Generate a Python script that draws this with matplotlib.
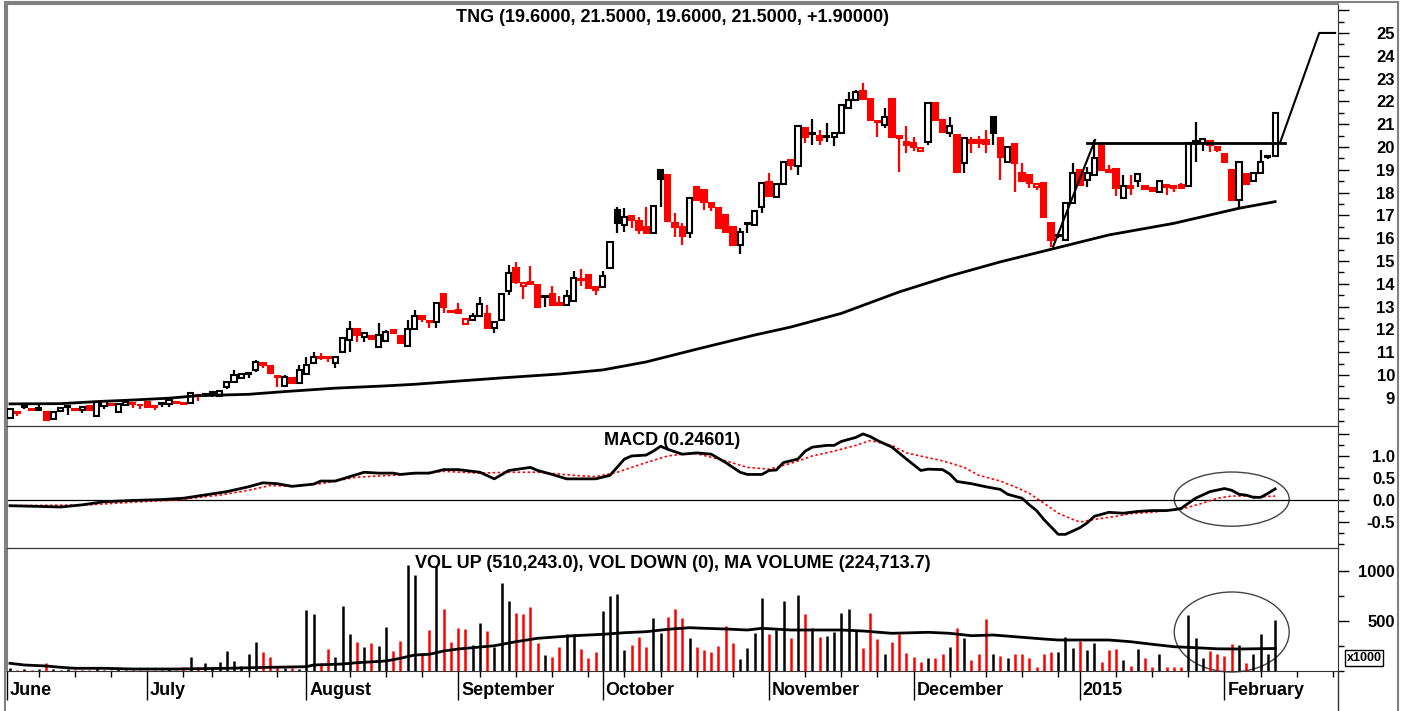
import numpy as np
import matplotlib.pyplot as plt
from matplotlib.patches import Rectangle, Ellipse
from matplotlib.lines import Line2D
from matplotlib.ticker import MultipleLocator

plt.rcParams['font.family'] = ['Liberation Sans', 'DejaVu Sans']
plt.rcParams['font.weight'] = 'bold'

# daily bars, TNG, June 2014 - February 2015
opens = [8.13, 8.39, 8.58, 8.51, 8.55, 8.39, 8.07, 8.42, 8.60, 8.52,
         8.46, 8.64, 8.22, 8.64, 8.72, 8.36, 8.70, 8.78, 8.70, 8.83,
         8.64, 8.73, 8.73, 8.80, 8.78, 8.76, 9.12, 9.13, 9.22, 9.09,
         9.46, 9.68, 9.88, 10.05, 10.22, 10.51, 10.37, 9.95, 9.52, 9.88,
         9.66, 10.04, 10.51, 10.80, 10.80, 10.51, 10.99, 11.53, 12.02, 11.65,
         11.71, 11.24, 11.50, 11.97, 11.71, 11.27, 12.02, 12.60, 12.36, 12.34,
         13.55, 12.82, 12.85, 12.24, 12.41, 12.59, 12.67, 12.05, 12.41, 13.70,
         14.68, 13.90, 14.06, 13.95, 13.42, 13.55, 13.14, 13.07, 13.26, 14.22,
         14.39, 13.87, 13.87, 14.68, 17.24, 16.58, 16.97, 16.77, 16.51, 16.21,
         18.99, 18.77, 16.68, 16.51, 16.21, 18.23, 18.09, 17.53, 17.34, 17.02,
         16.48, 15.70, 16.60, 16.58, 17.38, 18.48, 17.79, 18.38, 19.43, 19.17,
         20.82, 20.55, 20.48, 20.43, 20.45, 20.60, 21.70, 22.06, 22.47, 22.09,
         21.16, 20.97, 22.09, 20.48, 20.23, 20.16, 19.84, 20.23, 21.92, 21.18,
         20.60, 20.53, 19.28, 20.31, 20.31, 20.30, 21.30, 20.38, 19.36, 20.11,
         18.87, 18.77, 18.23, 18.44, 16.65, 16.10, 15.92, 17.56, 18.99, 18.55,
         18.77, 20.09, 18.98, 19.02, 17.75, 18.29, 18.52, 18.29, 18.19, 18.04,
         18.33, 18.29, 18.33, 18.29, 20.21, 20.19, 20.26, 19.99, 19.68, 18.99,
         17.68, 18.82, 18.52, 18.85, 19.55, 19.60]
highs = [8.49, 8.39, 8.64, 8.52, 8.73, 8.40, 8.37, 8.60, 8.66, 8.53,
         8.62, 8.65, 8.85, 8.86, 8.73, 8.76, 8.87, 8.79, 8.71, 8.84,
         8.66, 8.80, 8.92, 8.81, 8.80, 9.24, 9.17, 9.14, 9.28, 9.33,
         9.75, 10.22, 10.06, 10.12, 10.66, 10.55, 10.38, 9.96, 10.00, 9.89,
         10.44, 10.77, 11.02, 10.95, 10.82, 10.82, 11.63, 12.37, 12.04, 11.88,
         11.73, 12.27, 11.97, 12.00, 11.73, 12.41, 12.85, 12.63, 12.38, 13.19,
         13.58, 12.85, 13.14, 12.46, 12.73, 13.41, 13.07, 12.36, 13.56, 14.83,
         14.97, 14.07, 14.78, 13.97, 13.48, 13.90, 13.46, 13.73, 14.58, 14.63,
         14.41, 13.89, 14.58, 15.87, 17.38, 17.31, 16.99, 16.94, 17.38, 17.43,
         19.01, 18.80, 17.09, 16.65, 17.77, 18.25, 18.11, 17.60, 17.36, 17.04,
         16.50, 16.43, 16.67, 17.23, 18.46, 18.85, 18.40, 19.38, 19.45, 20.94,
         20.84, 21.21, 20.75, 21.04, 20.62, 21.86, 22.43, 22.50, 22.79, 22.10,
         21.17, 21.70, 22.10, 20.49, 20.94, 20.45, 19.99, 21.94, 21.94, 21.20,
         21.30, 20.55, 20.40, 20.45, 20.48, 20.75, 21.32, 20.40, 20.03, 20.13,
         19.28, 18.79, 18.40, 18.46, 16.67, 16.16, 17.58, 19.28, 19.01, 19.14,
         20.31, 20.20, 19.21, 19.04, 18.77, 18.77, 18.82, 18.31, 18.21, 18.54,
         18.35, 18.31, 18.44, 20.18, 21.11, 20.36, 20.31, 20.01, 19.70, 19.01,
         19.38, 18.84, 18.87, 19.87, 19.62, 21.50]
lows = [8.06, 8.22, 8.49, 8.42, 8.42, 8.00, 8.05, 8.40, 8.25, 8.46,
        8.32, 8.45, 8.20, 8.52, 8.64, 8.35, 8.68, 8.54, 8.49, 8.58,
        8.46, 8.61, 8.58, 8.74, 8.72, 8.74, 8.87, 9.02, 9.02, 9.08,
        9.40, 9.66, 9.86, 9.85, 10.15, 10.29, 10.05, 9.49, 9.50, 9.60,
        9.64, 10.00, 10.48, 10.66, 10.58, 10.29, 10.97, 11.02, 11.46, 11.46,
        11.54, 11.22, 11.48, 11.80, 11.37, 11.25, 12.00, 12.34, 12.05, 12.05,
        12.73, 12.70, 12.70, 12.22, 12.40, 12.57, 12.03, 11.83, 12.39, 13.51,
        13.99, 13.32, 13.98, 12.95, 13.00, 13.05, 13.04, 13.05, 13.24, 13.90,
        13.78, 13.51, 13.85, 14.66, 16.24, 16.29, 16.43, 16.19, 16.22, 16.19,
        17.38, 16.70, 16.07, 15.70, 15.99, 17.66, 17.24, 17.17, 16.41, 16.27,
        15.68, 15.31, 16.21, 16.56, 17.09, 17.83, 17.77, 18.36, 18.99, 18.77,
        20.19, 20.09, 20.09, 20.23, 20.04, 20.58, 21.68, 22.00, 22.05, 21.16,
        20.45, 20.82, 20.43, 18.92, 19.72, 19.84, 19.82, 20.09, 21.16, 20.65,
        20.42, 18.90, 18.85, 19.72, 19.94, 19.72, 20.09, 18.55, 19.34, 18.04,
        18.50, 18.19, 18.11, 16.92, 15.63, 15.99, 15.90, 17.54, 18.31, 18.26,
        18.75, 18.97, 18.85, 17.85, 17.73, 17.90, 18.26, 18.12, 18.05, 18.02,
        17.90, 18.04, 18.17, 18.27, 19.36, 19.84, 19.80, 19.80, 19.34, 17.66,
        17.38, 18.36, 18.50, 18.83, 19.48, 19.60]
closes = [8.49, 8.32, 8.63, 8.44, 8.46, 8.03, 8.36, 8.54, 8.64, 8.48,
          8.61, 8.46, 8.83, 8.84, 8.66, 8.73, 8.83, 8.74, 8.66, 8.60,
          8.58, 8.78, 8.90, 8.76, 8.74, 9.22, 9.10, 9.11, 9.27, 9.31,
          9.71, 10.00, 10.04, 10.10, 10.58, 10.45, 10.07, 9.90, 9.91, 9.63,
          10.22, 10.44, 10.80, 10.76, 10.74, 10.80, 11.61, 12.02, 11.75, 11.86,
          11.56, 11.75, 11.90, 11.83, 11.39, 12.02, 12.60, 12.45, 12.30, 13.17,
          13.00, 12.76, 12.72, 12.44, 12.59, 13.10, 12.05, 12.34, 13.54, 14.49,
          14.09, 14.05, 14.00, 12.97, 13.46, 13.07, 13.05, 13.48, 14.24, 14.15,
          13.80, 13.73, 14.34, 15.85, 16.65, 16.92, 16.80, 16.36, 16.24, 17.41,
          18.60, 16.73, 16.51, 16.10, 17.75, 17.68, 17.60, 17.38, 16.43, 16.29,
          15.70, 16.29, 16.65, 17.21, 18.44, 17.85, 18.38, 19.36, 19.21, 20.92,
          20.45, 20.58, 20.31, 20.46, 20.60, 21.84, 22.06, 22.43, 22.09, 21.18,
          21.08, 21.30, 20.45, 20.38, 20.09, 19.99, 19.97, 21.92, 21.18, 20.67,
          20.92, 18.92, 20.38, 20.19, 20.16, 20.14, 20.60, 19.58, 20.01, 19.28,
          18.52, 18.40, 18.38, 16.94, 15.92, 16.14, 17.56, 18.85, 18.33, 18.85,
          19.50, 18.99, 18.90, 18.19, 18.29, 18.20, 18.80, 18.14, 18.07, 18.52,
          18.26, 18.22, 18.19, 20.16, 20.24, 20.34, 20.09, 19.87, 19.36, 17.68,
          19.36, 18.38, 18.85, 19.36, 19.60, 21.50]
# volume in thousands
volumes = [30, 15, 20, 12, 18, 77, 25, 15, 20, 10,
           15, 12, 30, 15, 10, 20, 15, 10, 12, 10,
           8, 15, 20, 10, 43, 143, 43, 77, 27, 93,
           200, 103, 53, 167, 293, 193, 143, 43, 27, 27,
           20, 610, 567, 77, 217, 143, 653, 367, 293, 237,
           277, 250, 443, 203, 303, 1060, 960, 177, 410, 1050,
           617, 287, 433, 417, 260, 477, 403, 243, 877, 700,
           577, 567, 637, 277, 160, 143, 243, 367, 367, 217,
           133, 187, 603, 753, 770, 210, 260, 343, 243, 527,
           377, 543, 617, 527, 327, 243, 210, 193, 250, 453,
           283, 117, 227, 376, 726, 366, 410, 699, 326, 759,
           566, 426, 343, 353, 393, 576, 616, 410, 226, 583,
           320, 170, 286, 366, 176, 143, 93, 127, 133, 167,
           243, 433, 326, 110, 170, 520, 167, 150, 133, 167,
           167, 127, 43, 167, 193, 193, 343, 226, 300, 210,
           276, 93, 210, 216, 107, 53, 216, 133, 43, 167,
           43, 43, 43, 559, 326, 127, 200, 167, 150, 266,
           260, 77, 167, 366, 167, 510]

# long moving average on price (sampled points)
ma_idx = [0, 7, 12, 17, 22, 26, 33, 38, 45, 52, 56, 68, 76, 82, 88, 95,
          103, 108, 115, 123, 130, 137, 144, 152, 161, 170, 175]
ma_val = [8.73, 8.74, 8.83, 8.90, 8.98, 9.09, 9.15, 9.27, 9.42, 9.52, 9.59,
          9.87, 10.04, 10.22, 10.57, 11.13, 11.75, 12.10, 12.70, 13.64, 14.34,
          14.96, 15.51, 16.14, 16.65, 17.31, 17.60]

macd_idx = [0, 5, 7, 10, 13, 17, 21, 24, 26, 30, 33, 35, 37, 39, 42, 43, 45,
            47, 49, 51, 53, 54, 56, 58, 60, 62, 64, 65, 67, 69, 72, 73, 75, 77,
            79, 81, 83, 85, 86, 88, 89, 90, 91, 93, 95, 97, 99, 101, 102, 104,
            105, 106, 107, 109, 110, 111, 113, 114, 115, 117, 118, 119, 120,
            122, 124, 126, 127, 129, 130, 131, 133, 135, 137, 138, 140, 141,
            142, 143, 145, 146, 148, 149, 150, 152, 154, 156, 158, 160, 161,
            162, 164, 166, 168, 169, 170, 171, 172, 173, 174, 175]
macd_val = [-0.13, -0.15, -0.16, -0.11, -0.04, -0.01, 0.01, 0.04, 0.09, 0.19,
            0.30, 0.39, 0.37, 0.31, 0.36, 0.43, 0.43, 0.53, 0.63, 0.61, 0.61,
            0.58, 0.61, 0.61, 0.69, 0.69, 0.65, 0.63, 0.48, 0.67, 0.74, 0.67,
            0.58, 0.48, 0.48, 0.48, 0.56, 0.93, 1.00, 1.02, 1.11, 1.22, 1.15,
            1.04, 1.07, 1.04, 0.85, 0.63, 0.58, 0.58, 0.67, 0.68, 0.85, 0.93,
            1.11, 1.20, 1.24, 1.24, 1.33, 1.42, 1.50, 1.44, 1.35, 1.20, 0.93,
            0.67, 0.70, 0.69, 0.59, 0.42, 0.37, 0.30, 0.24, 0.13, 0.04, -0.11,
            -0.24, -0.44, -0.78, -0.78, -0.63, -0.52, -0.37, -0.28, -0.30,
            -0.26, -0.24, -0.24, -0.22, -0.19, 0.04, 0.19, 0.26, 0.22, 0.13,
            0.11, 0.06, 0.06, 0.15, 0.25]
signal_idx = [0, 11, 17, 23, 29, 33, 36, 39, 43, 48, 53, 60, 65, 69, 73, 78,
              81, 84, 88, 91, 93, 95, 99, 102, 105, 108, 111, 114, 117, 119,
              122, 124, 127, 129, 132, 134, 137, 139, 141, 143, 145, 147, 148,
              150, 153, 155, 158, 160, 162, 165, 167, 169, 171, 173, 175]
signal_val = [-0.13, -0.11, -0.05, 0.0, 0.11, 0.22, 0.33, 0.31, 0.37, 0.52,
              0.56, 0.65, 0.61, 0.63, 0.63, 0.56, 0.53, 0.63, 0.85, 1.0, 1.04,
              1.05, 0.89, 0.74, 0.70, 0.83, 1.0, 1.11, 1.24, 1.35, 1.24, 1.07,
              0.96, 0.89, 0.74, 0.56, 0.43, 0.30, 0.15, -0.07, -0.30, -0.44,
              -0.50, -0.44, -0.37, -0.31, -0.28, -0.24, -0.21, -0.07, 0.04,
              0.09, 0.09, 0.07, 0.09]

vma_idx = [0, 2, 5, 7, 9, 13, 17, 23, 30, 36, 41, 42, 46, 48, 52, 54, 56, 58,
           60, 62, 64, 67, 70, 73, 76, 78, 82, 85, 88, 91, 94, 96, 99, 102,
           104, 108, 112, 115, 118, 122, 127, 130, 133, 136, 139, 143, 145,
           152, 155, 158, 161, 164, 167, 170, 175]
vma_val = [77, 60, 50, 37, 27, 27, 20, 20, 27, 37, 43, 60, 70, 83, 100, 127,
           160, 167, 200, 220, 233, 253, 293, 327, 343, 353, 367, 383, 393,
           417, 433, 427, 420, 410, 427, 410, 410, 410, 400, 377, 387, 377,
           353, 360, 343, 320, 310, 310, 293, 267, 243, 233, 222, 220, 225]

# drawn lines on the price panel
resist_x, resist_y = [149.0, 176.3], [20.17, 20.17]
trend_x, trend_y = [144.3, 150.1], [15.63, 20.31]
target_x, target_y = [175.7, 181.1, 183.3], [20.2, 25.0, 25.0]

month_idx = [-0.41, 19, 41, 62, 82, 105, 125, 148, 168]
month_labels = ['June', 'July', 'August', 'September', 'October',
                'November', 'December', '2015', 'February']
week_idx = [4, 9, 14, 24, 28, 33, 37, 47, 52, 57, 65, 70, 75, 80, 85, 90, 95,
            100, 110, 115, 120, 130, 135, 140, 145, 153, 158, 163, 173, 178, 183]

title_price = 'TNG (19.6000, 21.5000, 19.6000, 21.5000, +1.90000)'
title_macd = 'MACD (0.24601)'
title_vol = 'VOL UP (510,243.0), VOL DOWN (0), MA VOLUME (224,713.7)'

W_PX, H_PX = 1406, 711
RED = '#ff0000'
GRAY = '#808080'


def box(left, top, right, bottom):
    return [left / W_PX, 1 - bottom / H_PX, (right - left) / W_PX, (bottom - top) / H_PX]


fig = plt.figure(figsize=(W_PX / 100, H_PX / 100), dpi=100)
ax1 = fig.add_axes(box(7, 4, 1338, 426))
ax2 = fig.add_axes(box(7, 426, 1338, 548), sharex=ax1)
ax3 = fig.add_axes(box(7, 548, 1338, 671), sharex=ax1)

o = np.array(opens)
h = np.array(highs)
l = np.array(lows)
c = np.array(closes)
idx = np.arange(len(c))
prev = np.r_[c[0], c[:-1]]
cols = np.where(c >= prev, 'black', RED)

# candles
ax1.vlines(idx, l, h, colors=cols, lw=1.6, zorder=2)
bw = 0.72
for i in idx:
    lo, hi = min(o[i], c[i]), max(o[i], c[i])
    face = 'white' if c[i] > o[i] else cols[i]
    ax1.add_patch(Rectangle((i - bw / 2, lo), bw, max(hi - lo, 0.04),
                            facecolor=face, edgecolor=cols[i], lw=1.5, zorder=3))
ax1.plot(ma_idx, ma_val, color='black', lw=2, zorder=4)
ax1.plot(resist_x, resist_y, color='black', lw=2, zorder=5)
ax1.plot(trend_x, trend_y, color='black', lw=1.5, zorder=5)
ax1.plot(target_x, target_y, color='black', lw=1.5, zorder=5)

# MACD
ax2.axhline(0, color='black', lw=0.9)
ax2.plot(signal_idx, signal_val, color=RED, lw=1.2, ls=(0, (1.5, 1.5)))
ax2.plot(macd_idx, macd_val, color='black', lw=2)
ax2.add_patch(Ellipse((169, 0.02), 15.9, 1.23, fill=False, edgecolor='#444444', lw=1))

# volume
ax3.vlines(idx, 0, volumes, colors=cols, lw=1.8)
ax3.plot(vma_idx, vma_val, color='black', lw=2)
ax3.add_patch(Ellipse((169, 390), 15.9, 800, fill=False, edgecolor='#444444', lw=1, clip_on=False))

ax1.set_xlim(-0.41, 183.7)
ax1.set_ylim(7.76, 26.27)
ax2.set_ylim(-1.09, 1.68)
ax3.set_ylim(0, 1230)

for ax in (ax1, ax2, ax3):
    ax.yaxis.tick_right()
    ax.tick_params(axis='y', which='major', length=8, width=1, direction='out',
                   pad=33, labelsize=12)
    ax.tick_params(axis='y', which='minor', length=4, width=1, direction='out')
    ax.spines['left'].set_color(GRAY)
    ax.spines['left'].set_linewidth(1.5)
    ax.spines['right'].set_color('#333333')
    ax.spines['top'].set_color('#333333')
    ax.spines['bottom'].set_color('#333333')
    ax.patch.set_alpha(0)

ax1.spines['top'].set_color(GRAY)
ax1.spines['top'].set_linewidth(1.5)
ax1.set_yticks(list(range(9, 27)), [str(v) if v <= 25 else '' for v in range(9, 27)], ha='right')
ax1.yaxis.set_minor_locator(MultipleLocator(0.5))
ax2.set_yticks([-0.5, 0.0, 0.5, 1.0, 1.5], ['-0.5', '0.0', '0.5', '1.0', ''], ha='right')
ax2.yaxis.set_minor_locator(MultipleLocator(0.25))
ax3.set_yticks([500, 1000], ['500', '1000'], ha='right')
ax3.yaxis.set_minor_locator(MultipleLocator(250))

for ax in (ax1, ax2):
    ax.tick_params(axis='x', which='both', bottom=False, labelbottom=False)

ax3.set_xticks(month_idx)
ax3.set_xticks(week_idx, minor=True)
ax3.tick_params(axis='x', which='major', length=21, width=1, direction='out',
                labelbottom=False, color='black')
ax3.tick_params(axis='x', which='minor', length=4.5, width=1, direction='out', color='black')
for m, lab in zip(month_idx, month_labels):
    ax3.annotate(lab, xy=(m, 0), xycoords=('data', 'axes fraction'),
                 xytext=(2, -14), textcoords='offset points',
                 ha='left', va='center', fontsize=13, fontweight='bold')

ax1.text(0.5, 0.967, title_price, transform=ax1.transAxes, ha='center', va='center',
         fontsize=13, fontweight='bold')
ax2.text(0.5, 0.885, title_macd, transform=ax2.transAxes, ha='center', va='center',
         fontsize=13, fontweight='bold')
ax3.text(0.5, 0.878, title_vol, transform=ax3.transAxes, ha='center', va='center',
         fontsize=13, fontweight='bold')

fig.text(1364 / W_PX, 1 - 658 / H_PX, 'x1000', ha='center', va='center', fontsize=9,
         fontweight='bold',
         bbox=dict(boxstyle='square,pad=0.15', facecolor='white', edgecolor='black', lw=1))

# outer frame
fig.add_artist(Rectangle((5 / W_PX, -0.05), (1398 - 5) / W_PX, 1 - 2 / H_PX + 0.05,
                         transform=fig.transFigure, fill=False, edgecolor=GRAY, lw=1.5))
fig.add_artist(Line2D([1338 / W_PX, 1338 / W_PX], [0, 1 - 671 / H_PX],
                      transform=fig.transFigure, color='#333333', lw=1))

fig.savefig('out.png', dpi=100, facecolor='white')
